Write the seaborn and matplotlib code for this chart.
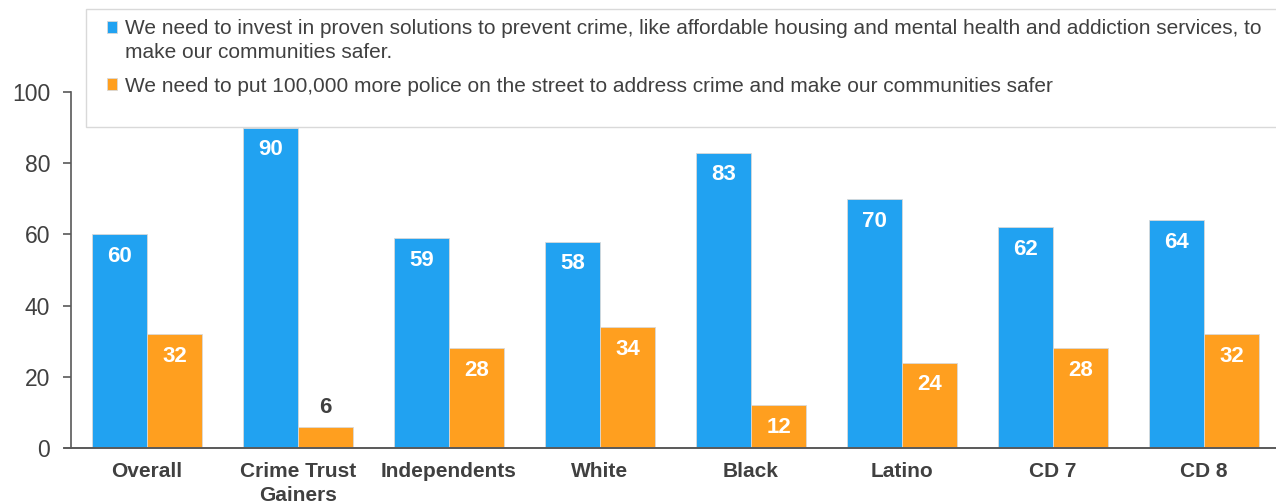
import matplotlib
matplotlib.use("Agg")
import matplotlib.pyplot as plt
import seaborn as sns
import pandas as pd
from matplotlib.patches import Rectangle

categories = ["Overall", "Crime Trust\nGainers", "Independents", "White", "Black", "Latino", "CD 7", "CD 8"]
series_names = [
    "We need to invest in proven solutions to prevent crime, like affordable housing and mental health and addiction services, to\nmake our communities safer.",
    "We need to put 100,000 more police on the street to address crime and make our communities safer",
]
invest_values = [60, 90, 59, 58, 83, 70, 62, 64]
police_values = [32, 6, 28, 34, 12, 24, 28, 32]
colors = ["#21A2F1", "#FF9F1F"]
text_color = "#404040"

sns.set_theme(style="white")
plt.rcParams["font.family"] = ["Liberation Sans", "DejaVu Sans"]

df = pd.DataFrame({
    "group": categories * 2,
    "value": invest_values + police_values,
    "series": [series_names[0]] * len(categories) + [series_names[1]] * len(categories),
})

fig = plt.figure(figsize=(12.76, 5.04), dpi=100)
ax = fig.add_axes([71 / 1276, 1 - 448 / 504, 1 - 71 / 1276, (448 - 92) / 504])

sns.barplot(data=df, x="group", y="value", hue="series", palette=colors, saturation=1,
            width=0.73, gap=0, edgecolor="#D9D9D9", linewidth=0.6,
            ax=ax, legend=True, order=categories, hue_order=series_names)

ax.set_ylim(0, 100)
ax.set_xlim(-0.503, 7.477)
ax.set_yticks([0, 20, 40, 60, 80, 100])
ax.set_xlabel("")
ax.set_ylabel("")
for s in ["top", "right"]:
    ax.spines[s].set_visible(False)
ax.spines["left"].set_color("#595959")
ax.spines["bottom"].set_color("#595959")
ax.spines["left"].set_linewidth(1.2)
ax.spines["bottom"].set_linewidth(1.2)
ax.tick_params(axis="y", which="both", left=True, length=6, width=1.2, color="#595959",
               labelsize=16.5, labelcolor=text_color, pad=9)
ax.tick_params(axis="x", length=0, labelsize=15, labelcolor=text_color, pad=10)
for lab in ax.get_xticklabels():
    lab.set_fontweight("bold")
    lab.set_linespacing(1.35)

# extend zero line slightly to the left of spine
ax.axhline(0, xmin=-0.006, xmax=1, color="#595959", lw=1.2, clip_on=False)

# bar labels
for cont, vals in zip(ax.containers, [invest_values, police_values]):
    for patch, v in zip(cont.patches, vals):
        cx = patch.get_x() + patch.get_width() / 2
        top = patch.get_height()
        if v >= 10:
            ax.annotate(f"{v}", (cx, top), xytext=(0, -16), textcoords="offset points",
                        ha="center", va="center", color="white", fontsize=16, fontweight="bold")
        else:
            ax.annotate(f"{v}", (cx, top), xytext=(0, 14), textcoords="offset points",
                        ha="center", va="center", color=text_color, fontsize=16, fontweight="bold")

# legend: first line of each entry next to its marker, wrapped continuation below
handles, _ = ax.get_legend_handles_labels()
ax.get_legend().remove()
first_lines = [s.split("\n")[0] for s in series_names]
continuation = series_names[0].split("\n")[1]
leg = fig.legend(handles, first_lines, loc="upper left", bbox_to_anchor=(99 / 1276, 1 - 11 / 504),
                 frameon=False, fontsize=15, handlelength=0.48, handleheight=0.48,
                 handletextpad=0.35, labelspacing=1.84, labelcolor=text_color, borderaxespad=0)
fig.add_artist(Rectangle((86 / 1276, 1 - 127 / 504), 1.0, (127 - 9) / 504,
                         transform=fig.transFigure, facecolor="white", edgecolor="#D9D9D9",
                         linewidth=1.0, zorder=2))
leg.set_zorder(3)

fig.canvas.draw()
bb = leg.get_texts()[0].get_window_extent()
fig.text(bb.x0 / fig.bbox.width, (bb.y0 + bb.height / 2 - 24) / fig.bbox.height, continuation,
         fontsize=15, color=text_color, ha="left", va="center", zorder=4)

fig.savefig("out.png", dpi=100)
